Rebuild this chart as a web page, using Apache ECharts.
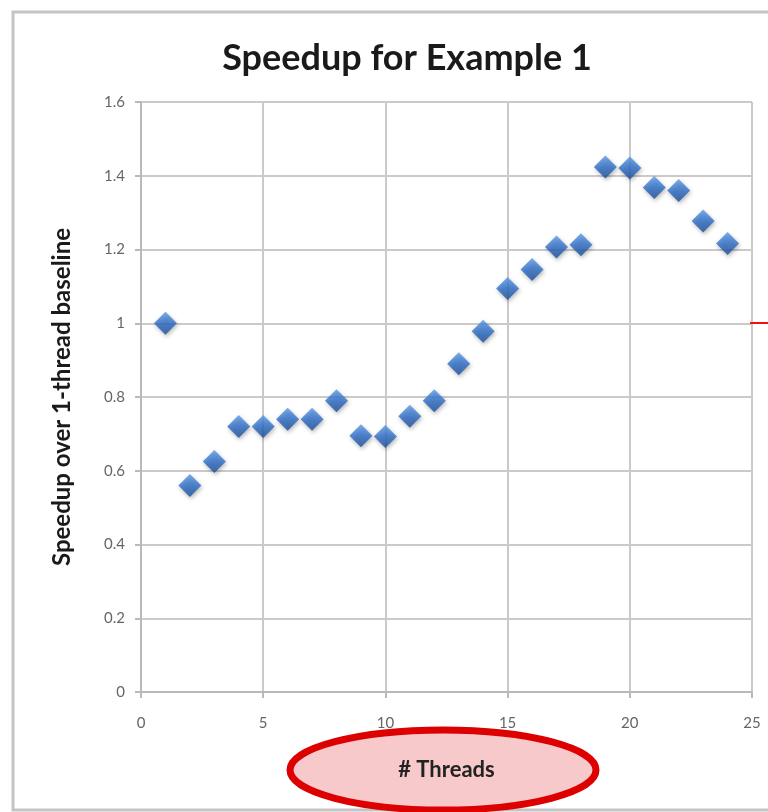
<!DOCTYPE html>
<html>
<head>
<meta charset="utf-8">
<script src="https://cdn.jsdelivr.net/npm/echarts@6/dist/echarts.min.js"></script>
<style>
html,body{margin:0;padding:0;background:#fff;}
#chart{width:768px;height:812px;}
</style>
</head>
<body>
<div id="chart"></div>
<script>
const threads = [1,2,3,4,5,6,7,8,9,10,11,12,13,14,15,16,17,18,19,20,21,22,23,24];
const speedup = [1.00,0.56,0.625,0.72,0.72,0.74,0.74,0.79,0.695,0.693,0.748,0.79,0.89,0.978,1.094,1.146,1.207,1.213,1.424,1.421,1.368,1.36,1.277,1.216];
const titleText = 'Speedup for Example 1';
const xName = '# Threads';
const yName = 'Speedup over 1-thread baseline';

const chart = echarts.init(document.getElementById('chart'));
const font = 'Lato, "Open Sans", sans-serif';
chart.setOption({
  animation: false,
  backgroundColor: '#ffffff',
  title: {
    text: titleText,
    left: 402, top: 35, textAlign: 'center',
    textStyle: {fontFamily: font, fontSize: 36, fontWeight: 'bold', color: '#1a1a1a'}
  },
  grid: {left: 141, right: 16, top: 102, bottom: 120},
  xAxis: {
    type: 'value', min: 0, max: 25, interval: 5,
    name: xName, nameLocation: 'middle', nameGap: 67,
    nameTextStyle: {fontFamily: font, fontSize: 22, color: '#222', fontWeight: 'bold'},
    axisLine: {lineStyle: {color: '#bcb8b8', width: 2}},
    axisTick: {show: true, length: 6, lineStyle: {color: '#bcb8b8', width: 2}},
    axisLabel: {fontFamily: font, fontSize: 15, color: '#666', margin: 24},
    splitLine: {show: true, lineStyle: {color: '#cdc9c9', width: 2}}
  },
  yAxis: {
    type: 'value', min: 0, max: 1.6, interval: 0.2,
    name: yName, nameLocation: 'middle', nameGap: 67, nameRotate: 90,
    nameTextStyle: {fontFamily: font, fontSize: 24, color: '#1a1a1a', fontWeight: 'bold'},
    axisLine: {show: true, lineStyle: {color: '#bcb8b8', width: 2}},
    axisTick: {show: true, length: 6, lineStyle: {color: '#bcb8b8', width: 2}},
    axisLabel: {fontFamily: font, fontSize: 15, color: '#666', margin: 16},
    splitLine: {show: true, lineStyle: {color: '#cdc9c9', width: 2}}
  },
  series: [{
    type: 'scatter',
    data: threads.map((t, i) => [t, speedup[i]]),
    symbol: 'diamond',
    symbolSize: [23, 23],
    itemStyle: {
      color: new echarts.graphic.LinearGradient(0, 0, 0, 1, [
        {offset: 0, color: '#5b9ae6'},
        {offset: 0.5, color: '#2e6fca'},
        {offset: 1, color: '#1b4d98'}
      ]),
      shadowColor: 'rgba(0,0,0,0.35)', shadowBlur: 4, shadowOffsetX: 1, shadowOffsetY: 2
    },
    z: 5
  }],
  graphic: [
    {type: 'rect', z: -20, silent: true,
     shape: {x: 13, y: 12, width: 800, height: 798},
     style: {fill: 'none', stroke: '#c4c4c4', lineWidth: 3}},
    {type: 'ellipse', z: -10, silent: true,
     shape: {cx: 443, cy: 770, rx: 153, ry: 40},
     style: {fill: '#f7c9ca', stroke: '#dd0000', lineWidth: 7}},
    {type: 'line', z: 10, silent: true,
     shape: {x1: 750, y1: 323, x2: 768, y2: 323},
     style: {stroke: '#ee1111', lineWidth: 2}}
  ]
});
</script>
</body>
</html>
